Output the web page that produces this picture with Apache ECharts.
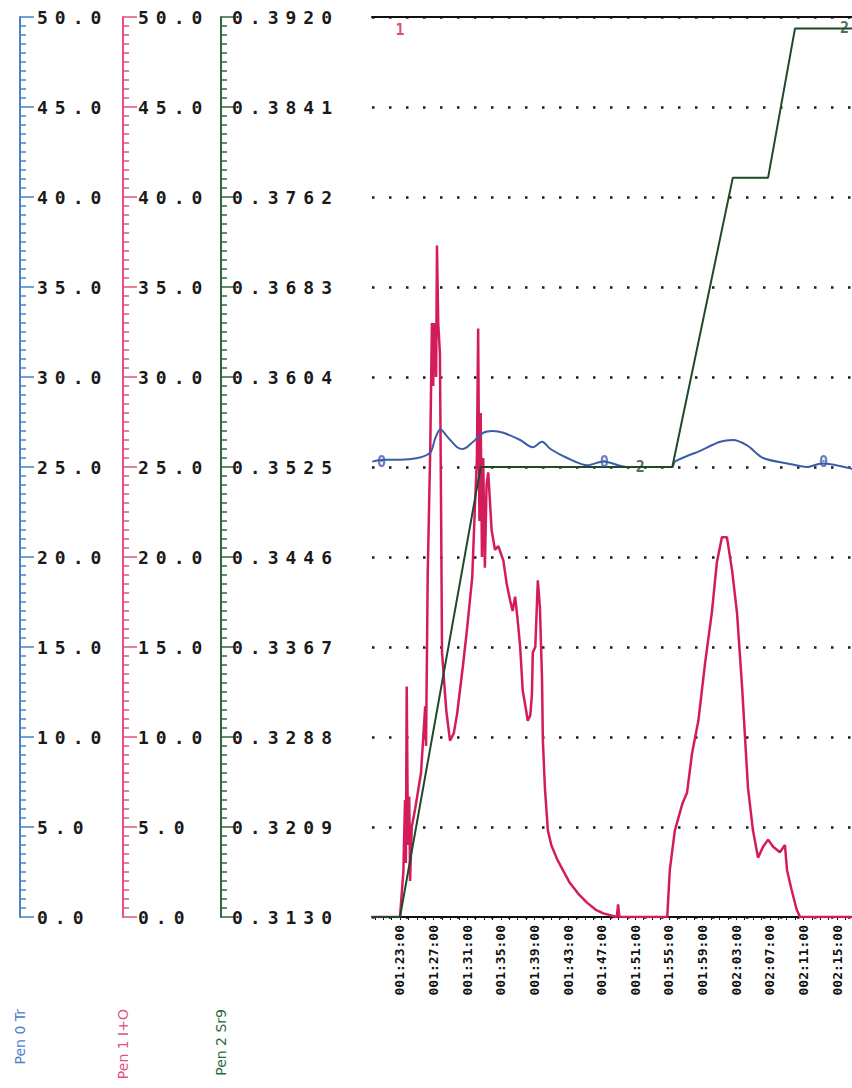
<!DOCTYPE html>
<html><head><meta charset="utf-8">
<script src="https://cdn.jsdelivr.net/npm/echarts@6/dist/echarts.min.js"></script>
<style>
html,body{margin:0;padding:0;background:#fff;}
#chart{width:852px;height:1088px;}
#chart text[style*="18px"]{letter-spacing:7px;}
</style></head><body><div id="chart"></div>
<script>
// time axis in minutes (001:23:00 = 83)
const timeTicks = [83,87,91,95,99,103,107,111,115,119,123,127,131,135];
const timeMin = 79.67, timeMax = 136.78;
const greenLabels = ['0.3130','0.3209','0.3288','0.3367','0.3446','0.3525','0.3604','0.3683','0.3762','0.3841','0.3920'];
const penNames = ['Pen 0 Tr','Pen 1 I+O','Pen 2 Sr9'];

// Pen 0 (blue), chart units 0-50
const pen0 = [[79.7,25.3],[81.0,25.4],[83.0,25.4],[85.1,25.5],[86.6,25.8],[87.2,26.6],[87.8,27.1],[88.6,26.7],[89.8,26.1],[90.5,26.0],[91.7,26.4],[92.9,26.9],[94.0,27.0],[95.3,26.9],[97.3,26.5],[98.8,26.1],[99.9,26.4],[100.9,26.0],[102.9,25.5],[105.3,25.1],[107.2,25.3],[110.0,25.0],[115.4,25.0],[115.7,25.3],[118.7,25.9],[121.1,26.4],[122.6,26.5],[124.3,26.2],[126.2,25.5],[129.1,25.2],[131.4,25.0],[133.2,25.2],[136.8,24.9]];

// Pen 1 (red), chart units 0-50
const pen1 = [[79.7,0],[83.0,0],[83.4,2.5],[83.6,6.5],[83.7,3.0],[83.8,12.8],[83.95,4.0],[84.1,6.7],[84.2,2.0],[84.4,5.0],[84.8,6.0],[85.5,8.0],[86.0,11.7],[86.1,9.5],[86.3,19.1],[86.6,26.0],[86.8,33.0],[86.95,29.5],[87.1,33.0],[87.3,30.0],[87.4,37.3],[87.55,33.0],[87.75,31.3],[87.9,22.0],[88.0,14.7],[88.5,11.5],[88.95,9.8],[89.4,10.2],[89.8,11.3],[90.5,14.0],[91.0,16.1],[91.6,18.9],[91.9,22.6],[92.15,25.4],[92.3,32.7],[92.45,22.0],[92.6,28.0],[92.75,20.0],[92.9,25.5],[93.1,19.4],[93.3,24.0],[93.5,24.7],[93.9,21.5],[94.3,20.4],[94.7,20.6],[95.3,19.8],[95.7,18.5],[96.1,17.6],[96.4,17.0],[96.7,17.8],[97.0,16.5],[97.3,15.0],[97.6,12.6],[98.0,11.5],[98.2,10.9],[98.5,11.2],[98.7,12.4],[98.8,14.7],[99.1,15.0],[99.4,18.7],[99.65,17.2],[99.9,13.2],[100.0,9.8],[100.25,7.1],[100.6,4.8],[101.0,4.0],[101.7,3.2],[103.2,1.9],[104.2,1.3],[105.25,0.8],[106.3,0.4],[107.2,0.2],[108.8,0],[108.95,0.7],[109.1,0],[114.8,0],[115.1,2.6],[115.7,4.8],[116.6,6.3],[117.15,6.9],[117.75,9.1],[118.5,10.9],[119.3,14.1],[120.1,16.9],[120.7,19.7],[121.3,21.1],[121.9,21.1],[122.5,19.3],[123.1,16.9],[123.7,12.8],[124.4,7.2],[125.0,4.8],[125.6,3.3],[126.2,3.9],[126.8,4.3],[127.4,3.9],[128.2,3.6],[128.8,4.0],[129.05,2.6],[129.6,1.5],[130.2,0.4],[130.6,0],[136.8,0]];

// Pen 2 (green), real units
const pen2 = [[79.7,0.3130],[83.0,0.3130],[92.6,0.3525],[115.4,0.3525],[122.6,0.3779],[126.8,0.3779],[130.0,0.3910],[136.8,0.3910]];

// pen id marks printed on the traces
const marks0 = [[80.8,25.3],[107.3,25.3],[133.4,25.3]];
const marks1 = [[83.0,49.3]];
const marks2 = [[111.6,0.3525],[135.9,0.3910]];

const gMin = parseFloat(greenLabels[0]);
const gStep = parseFloat(greenLabels[1]) - gMin;
const toChart = v => (v - gMin) / gStep * 5;
const pen2c = pen2.map(p => [p[0], toChart(p[1])]);
const marks2c = marks2.map(p => [p[0], toChart(p[1])]);

const minuteTicks = [];
for (let m = 80; m <= 136; m++) minuteTicks.push(m);

const fmtTime = v => {
  const h = Math.floor(v / 60), m = Math.round(v % 60);
  return String(h).padStart(3,'0') + ':' + String(m).padStart(2,'0') + ':00';
};

const BLUE = '#4a82c8', BLUE_L = '#3b5ca8';
const RED = '#e0527c', RED_L = '#d41c5c';
const GREEN = '#2a6a3c', GREEN_L = '#1e4a2a';

function yAx(color, offset, margin, nameIdx, fmt) {
  return {
    type: 'value', position: 'left', offset: offset, min: 0, max: 50, interval: 5,
    name: penNames[nameIdx], nameLocation: 'start', nameRotate: 90, nameGap: 92,
    nameTextStyle: { color: color, fontSize: 14, fontFamily: 'DejaVu Sans', align: 'right', verticalAlign: 'middle' },
    axisLine: { show: true, onZero: false, lineStyle: { color: color, width: 2 } },
    axisTick: { show: true, inside: true, length: 14, lineStyle: { color: color, width: 1.5 } },
    minorTick: { show: true, splitNumber: 10, length: 6, lineStyle: { color: color, width: 1.5 } },
    axisLabel: { inside: true, margin: margin, color: '#1a1a1a', fontFamily: 'DejaVu Sans Mono', fontWeight: 'bold', fontSize: 18, formatter: fmt },
    splitLine: { show: false }
  };
}

const yAxes = [
  yAx(BLUE, 352, 17, 0, v => v.toFixed(1)),
  yAx(RED, 249, 15, 1, v => v.toFixed(1)),
  yAx(GREEN, 151, 11, 2, v => greenLabels[Math.round(v / 5)])
];
yAxes[0].splitLine = { show: true, lineStyle: { color: '#1a1a1a', width: 2.5, type: [2.5, 14.5] } };

const markLabel = (color, txt) => ({ show: true, position: 'inside', formatter: txt, color: color, fontFamily: 'DejaVu Sans Mono', fontWeight: 'bold', fontSize: 15 });

const chart = echarts.init(document.getElementById('chart'), null, { renderer: 'svg' });
chart.setOption({
  animation: false,
  backgroundColor: '#fff',
  grid: { left: 372, right: 0, top: 17, bottom: 171, containLabel: false },
  xAxis: [{
    type: 'value', min: timeMin, max: timeMax,
    axisLine: { onZero: false, lineStyle: { color: '#111', width: 2 } },
    axisTick: { customValues: minuteTicks, length: 3, lineStyle: { color: '#111' } },
    axisLabel: { customValues: timeTicks, rotate: 90, margin: 8, formatter: fmtTime, fontFamily: 'DejaVu Sans Mono', fontWeight: 'bold', fontSize: 13, color: '#111' },
    splitLine: { show: false }
  }, {
    type: 'value', position: 'top', min: timeMin, max: timeMax,
    axisLine: { onZero: false, lineStyle: { color: '#111', width: 2 } },
    axisTick: { show: false }, axisLabel: { show: false }, splitLine: { show: false }
  }],
  yAxis: yAxes,
  series: [
    { type: 'line', yAxisIndex: 0, data: pen0, showSymbol: false, smooth: 0.3, lineStyle: { color: BLUE_L, width: 2 }, z: 3 },
    { type: 'line', yAxisIndex: 1, data: pen1, showSymbol: false, lineStyle: { color: RED_L, width: 2.5 }, z: 2 },
    { type: 'line', yAxisIndex: 2, data: pen2c, showSymbol: false, lineStyle: { color: GREEN_L, width: 2 }, z: 4 },
    { type: 'scatter', yAxisIndex: 0, data: marks0, symbolSize: 1, itemStyle: { color: 'transparent' }, label: markLabel(BLUE_L, '0'), z: 5 },
    { type: 'scatter', yAxisIndex: 1, data: marks1, symbolSize: 1, itemStyle: { color: 'transparent' }, label: markLabel(RED_L, '1'), z: 5 },
    { type: 'scatter', yAxisIndex: 2, data: marks2c, symbolSize: 1, itemStyle: { color: 'transparent' }, label: markLabel(GREEN_L, '2'), z: 5 }
  ]
});
</script></body></html>
